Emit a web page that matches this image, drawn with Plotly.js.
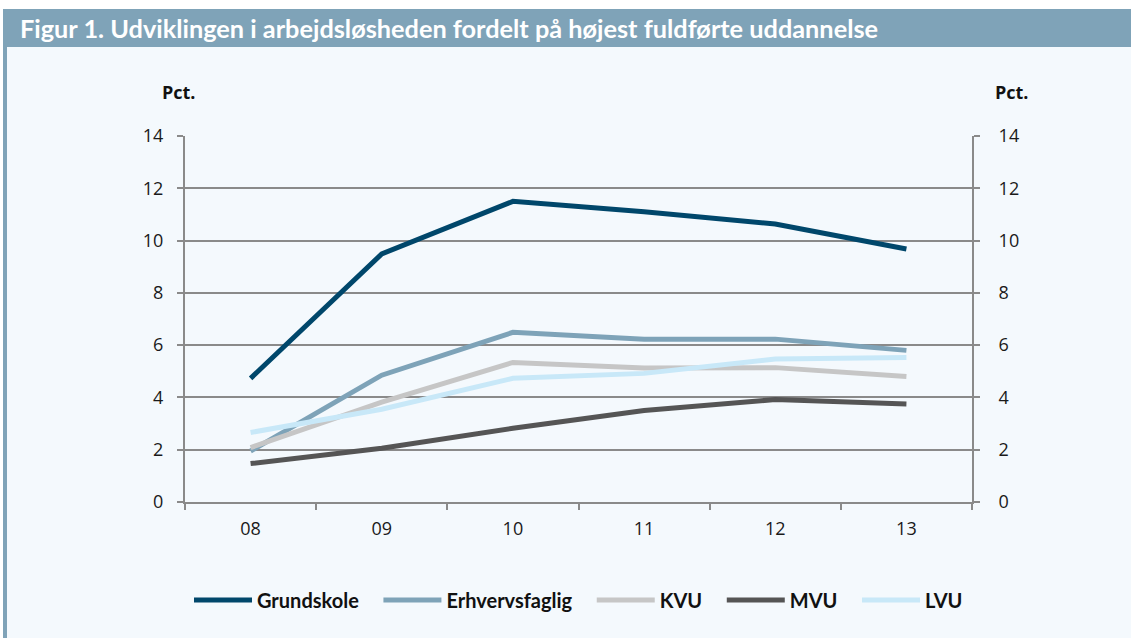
<!DOCTYPE html>
<html>
<head>
<meta charset="utf-8">
<script src="https://cdn.plot.ly/plotly-3.0.1.min.js"></script>
<style>
  html, body { margin: 0; padding: 0; background: #ffffff; }
  #chart { width: 1131px; height: 638px; }
</style>
</head>
<body>
<div id="chart"></div>
<script>
// ---- Data ----
const years = ['08', '09', '10', '11', '12', '13'];
const grundskole     = [4.73, 9.49, 11.50, 11.10, 10.63, 9.68];
const erhvervsfaglig = [1.95, 4.85, 6.49, 6.23, 6.23, 5.80];
const kvu            = [2.08, 3.82, 5.34, 5.13, 5.14, 4.80];
const mvu            = [1.47, 2.06, 2.82, 3.50, 3.92, 3.75];
const lvu            = [2.66, 3.55, 4.73, 4.92, 5.47, 5.53];
const seriesNames  = ['Grundskole', 'Erhvervsfaglig', 'KVU', 'MVU', 'LVU'];
const seriesValues = [grundskole, erhvervsfaglig, kvu, mvu, lvu];
const seriesColors = ['#00476b', '#7ea3b8', '#c6c6c6', '#555555', '#c8e8f8'];
const yTicks = [0, 2, 4, 6, 8, 10, 12, 14];
const titleText = 'Figur 1. Udviklingen i arbejdsløsheden fordelt på højest fuldførte uddannelse';
const unitLabel = 'Pct.';

// ---- Geometry helpers (pixel -> paper) ----
const W = 1131, H = 638;
const L = 185, R = 972, T = 136, B = 502;
const pw = R - L, ph = B - T;
const px = v => (v - L) / pw;
const py = v => (B - v) / ph;

const pad = '\u00a0\u00a0\u00a0';
const traces = seriesNames.map((n, i) => ({
  type: 'scatter', mode: 'lines', name: i < seriesNames.length - 1 ? n + pad : n,
  x: years, y: seriesValues[i],
  line: { color: seriesColors[i], width: 5, shape: 'linear' },
  hoverinfo: 'skip'
}));
traces.push({ type: 'scatter', mode: 'lines', x: [], y: [], yaxis: 'y2', showlegend: false, hoverinfo: 'skip' });

const tickFont = { family: 'Open Sans, sans-serif', size: 18, color: '#1a1a1a' };

const axisCommon = {
  range: [0, 14], tickvals: yTicks, ticktext: yTicks.map(String),
  showline: true, linecolor: '#8a8a8a', linewidth: 2,
  ticks: 'outside', ticklen: 6, tickwidth: 2, tickcolor: '#8a8a8a',
  tickfont: tickFont,
  zeroline: false, fixedrange: true
};

const layout = {
  width: W, height: H,
  margin: { l: L, r: W - R, t: T, b: H - B, pad: 0 },
  paper_bgcolor: '#f4f9fd', plot_bgcolor: '#f4f9fd',
  showlegend: true, hovermode: false,
  title: {
    text: '<b>' + titleText + '</b>',
    font: { family: 'Lato, sans-serif', size: 25.3, color: '#ffffff' },
    xref: 'container', yref: 'container',
    x: 20 / W, xanchor: 'left', y: 1 - 29 / H, yanchor: 'middle'
  },
  xaxis: {
    type: 'category', categoryorder: 'array', categoryarray: years,
    range: [-0.5, 5.5], tickson: 'boundaries',
    showline: true, linecolor: '#8a8a8a', linewidth: 2,
    ticks: 'outside', ticklen: 6, tickwidth: 2, tickcolor: '#8a8a8a',
    showgrid: false, zeroline: false, fixedrange: true,
    tickfont: tickFont, ticklabelstandoff: 9
  },
  yaxis: Object.assign({}, axisCommon, {
    side: 'left', showgrid: true, gridcolor: '#8a8a8a', gridwidth: 2, ticklabelstandoff: 10
  }),
  yaxis2: Object.assign({}, axisCommon, {
    side: 'right', overlaying: 'y', showgrid: false, ticklabelstandoff: 15
  }),
  legend: {
    orientation: 'h', x: 0.5, xanchor: 'center', y: py(600), yanchor: 'middle',
    bgcolor: 'rgba(0,0,0,0)', itemwidth: 58, traceorder: 'normal',
    font: { family: 'Lato, sans-serif', size: 20, color: '#111111', weight: 'bold' },
    itemclick: false, itemdoubleclick: false
  },
  shapes: [
    { type: 'rect', xref: 'paper', yref: 'paper', x0: px(0), x1: px(W), y0: py(9), y1: py(0), fillcolor: '#ffffff', line: { width: 0 }, layer: 'below' },
    { type: 'rect', xref: 'paper', yref: 'paper', x0: px(0), x1: px(3), y0: py(H), y1: py(0), fillcolor: '#ffffff', line: { width: 0 }, layer: 'below' },
    { type: 'rect', xref: 'paper', yref: 'paper', x0: px(3), x1: px(W), y0: py(47), y1: py(9), fillcolor: '#7fa3b8', line: { width: 0 }, layer: 'below' },
    { type: 'rect', xref: 'paper', yref: 'paper', x0: px(3), x1: px(7), y0: py(H), y1: py(47), fillcolor: '#7fa3b8', line: { width: 0 }, layer: 'below' }
  ],
  annotations: [
    { xref: 'paper', yref: 'paper', x: px(179), y: py(92), text: '<b>' + unitLabel + '</b>', showarrow: false, xanchor: 'center', yanchor: 'middle',
      font: { family: 'Open Sans, sans-serif', size: 18, color: '#111111' } },
    { xref: 'paper', yref: 'paper', x: px(1012), y: py(92), text: '<b>' + unitLabel + '</b>', showarrow: false, xanchor: 'center', yanchor: 'middle',
      font: { family: 'Open Sans, sans-serif', size: 18, color: '#111111' } }
  ]
};

Plotly.newPlot('chart', traces, layout, { staticPlot: true, displayModeBar: false });
</script>
</body>
</html>
